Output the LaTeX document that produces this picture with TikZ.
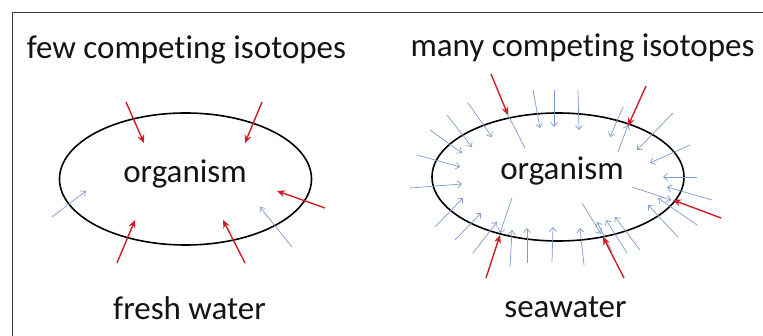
\documentclass[tikz,border=0pt]{standalone}
\usepackage{fontspec}
\setmainfont{Carlito}[Ligatures={NoCommon}]
\usetikzlibrary{arrows.meta}
\definecolor{redarr}{RGB}{205,30,40}
\definecolor{bluearr}{RGB}{125,155,205}
\definecolor{framec}{RGB}{60,60,60}
\tikzset{
  lbl/.style={anchor=base, inner sep=0pt, font=\fontsize{33}{40}\selectfont, text=black!92},
  redarrow/.style={draw=redarr, line width=1.4pt, -{Stealth[length=8pt,width=7pt]}},
  bluearrow/.style={draw=bluearr, line width=0.7pt, -{Straight Barb[length=4pt,width=7pt]}},
  blueline/.style={draw=bluearr, line width=0.7pt},
  organ/.style={draw=black, line width=1.6pt},
}
\begin{document}
\begin{tikzpicture}[x=1pt,y=-1pt]
\useasboundingbox (0,0) rectangle (763,336);
\fill[white] (0,0) rectangle (763,336);
% frame
\draw[framec, line width=1pt] (763,13) -- (12,13) -- (12,336);

% ---------------- left panel ----------------
\node[lbl] (fewt) at (186.5,59) {few competing isotopes};
\draw[organ] (185.5,179) ellipse [x radius=126pt, y radius=66pt];
\node[lbl] (orgl) at (185,183) {organism};
\node[lbl] (fresh) at (189.5,320) {fresh water};

\draw[redarrow] (126,102) -- (144,143);
\draw[redarrow] (262,102) -- (245,143);
\draw[redarrow] (325,208) -- (277,191);
\draw[redarrow] (117,263) -- (135,220);
\draw[redarrow] (245,263) -- (223,220);
\draw[bluearrow] (52,217) -- (86,191);
\draw[bluearrow] (292,247) -- (260,207);

% ---------------- right panel ----------------
\node[lbl] (manyt) at (582.5,57) {many competing isotopes};
\draw[organ] (558,177) ellipse [x radius=126pt, y radius=64pt];
\node[lbl] (orgr) at (562,180) {organism};
\node[lbl] (sea) at (565.5,318) {seawater};

% blue arrows
\foreach \a/\b/\c/\d in {
  410/188/462/184, 417/155/460/167, 430/130/462/153, 447/115/472/147,
  468/103/492/137, 435/227/463/198, 455/240/481/213, 473/253/497/222,
  510/267/512/230, 527/263/527/228, 552/262/553/227, 584/265/580/228,
  612/252/597/222, 627/253/606/220, 640/250/615/217, 678/237/648/205,
  697/225/658/198, 712/200/667/187, 697/177/663/177, 690/145/650/163,
  673/113/637/150, 623/107/610/137, 533/90/540/128, 554/90/554/127,
  578/90/579/130, 618/152/628/125, 512/198/500/233, 582/203/601/234,
  632/187/671/200}
  \draw[bluearrow] (\a,\b) -- (\c,\d);
\draw[blueline] (525,148) -- (508,115);

% red arrows
\draw[redarrow] (491,74) -- (508,115);
\draw[redarrow] (646,86) -- (628,126);
\draw[redarrow] (721,218) -- (673,200);
\draw[redarrow] (486,278) -- (500,235);
\draw[redarrow] (624,278) -- (603,237);
\end{tikzpicture}
\end{document}
